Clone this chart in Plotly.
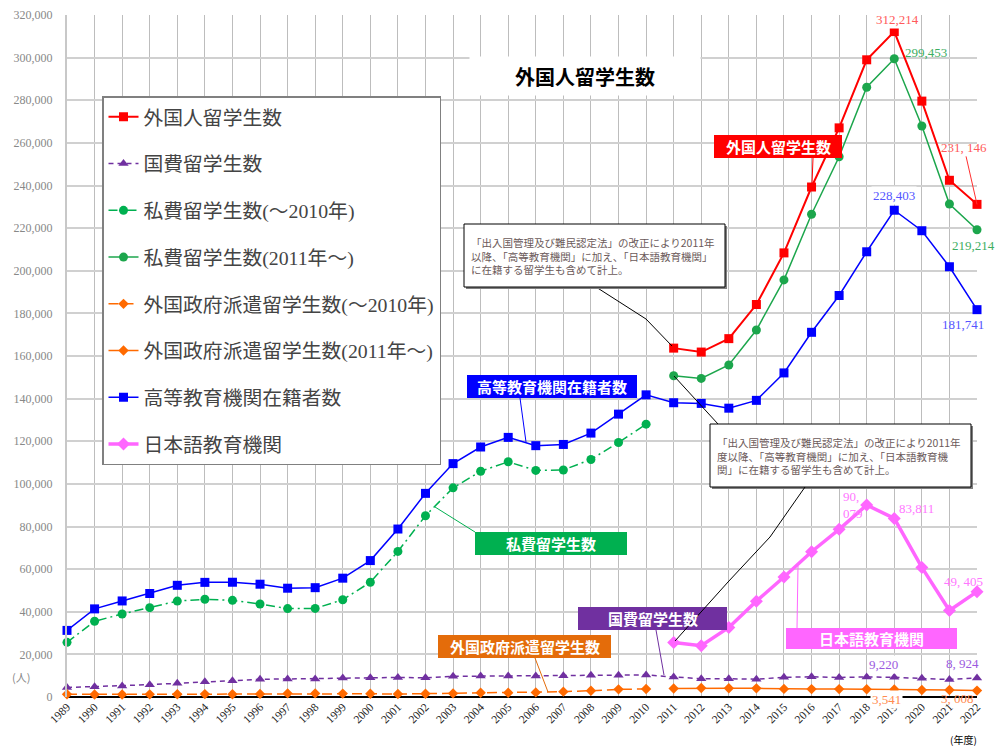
import plotly.graph_objects as go

# ---------------- data ----------------
years_all = list(range(1989, 2023))
years_pre = list(range(1989, 2011))
years_post = list(range(2011, 2023))

total_post = [163697, 161848, 168145, 184155, 208379, 239287, 267042, 298980,
              312214, 279597, 242444, 231146]

kokuhi_all = [4465, 4850, 5160, 5790, 6420, 7200, 7670, 8300, 8450, 8450, 8900,
              9070, 9173, 9009, 9746, 9804, 9891, 9869, 10020, 10168, 10200,
              10349, 9396, 8588, 8529, 8351, 9223, 9481, 9166, 9423, 9220,
              8785, 8185, 8924]

shihi_pre = [25643, 35523, 38950, 41917, 45010, 45845, 45344, 43643, 41494,
             41576, 45627, 53847, 68319, 85024, 98135, 105903, 110358, 106307,
             106511, 111455, 119396, 128013]
shihi_post = [150750, 149500, 155800, 172200, 195700, 226500, 253500, 286100,
              299453, 267900, 231300, 219214]

gaikoku_pre = [1270, 1150, 1200, 1250, 1300, 1350, 1300, 1450, 1700, 1700,
               1600, 1500, 1400, 1550, 1700, 2000, 2000, 2150, 2500, 2950,
               3600, 3750]
gaikoku_post = [4000, 4200, 4100, 4050, 3800, 3700, 3700, 3650, 3541, 3300,
                3250, 3008]

koto_all = [31251, 41347, 45066, 48561, 52405, 53787, 53847, 52921, 51047,
            51298, 55755, 64011, 78812, 95550, 109508, 117302, 121812, 117927,
            118498, 123829, 132720, 141774, 138075, 137756, 135519, 139185,
            152062, 171122, 188384, 208901, 228403, 218783, 201877, 181741]

nihongo_post = [25622, 24092, 32626, 44970, 56317, 68165, 78658, 90079, 83811,
                60814, 40570, 49405]

y_ticks = list(range(0, 320001, 20000))

names = ["外国人留学生数", "国費留学生数", "私費留学生数(～2010年)",
         "私費留学生数(2011年～)", "外国政府派遣留学生数(～2010年)",
         "外国政府派遣留学生数(2011年～)", "高等教育機関在籍者数", "日本語教育機関"]

# ---------------- styling ----------------
W, H = 996, 752
L, T = 67, 15                 # plot area: x 67..977, y 15..697
PW, PH = 910, 682
R, B = W - L - PW, H - T - PH
SERIF = "Liberation Serif, Noto Sans CJK JP"
JP = "Noto Sans CJK JP"

def px(x):
    return (x - L) / PW

def py(y):
    return (T + PH - y) / PH

RED, PURPLE, GREEN, ORANGE, BLUE, PINK = "#FF0000", "#7030A0", "#00B050", "#FF6A00", "#0000FF", "#FF66FF"

fig = go.Figure()

def add(x, y, name, color, dash, symbol, msize, lw, gi):
    fig.add_trace(go.Scatter(
        x=x, y=y, name=name, mode="lines+markers",
        line=dict(color=color, width=lw, dash=dash),
        marker=dict(symbol=symbol, size=msize, color=color),
        cliponaxis=False, legendgroup=f"g{gi}", hoverinfo="x+y"))

add(years_post, total_post, names[0], RED, "solid", "square", 9, 2, 0)
add(years_all, kokuhi_all, names[1], PURPLE, "5px,4px", "triangle-up", 9, 1.5, 1)
add(years_pre, shihi_pre, names[2], GREEN, "9px,4px,2px,4px", "circle", 9, 1.5, 2)
add(years_post, shihi_post, names[3], "#1CA64C", "solid", "circle", 9, 1.5, 3)
add(years_pre, gaikoku_pre, names[4], ORANGE, "10px,5px", "diamond", 8, 1.5, 4)
add(years_post, gaikoku_post, names[5], ORANGE, "solid", "diamond", 8, 1.5, 5)
add(years_all, koto_all, names[6], BLUE, "solid", "square", 9, 1.5, 6)
add(years_post, nihongo_post, names[7], PINK, "solid", "diamond", 10, 3.5, 7)

ann = []
shapes = []

def pann(x, y, text, font, **kw):
    d = dict(xref="paper", yref="paper", x=px(x), y=py(y), text=text, showarrow=False,
             xanchor="center", yanchor="middle", font=font)
    d.update(kw)
    ann.append(d)

# title with white backing
pann(585, 76, "<b>外国人留学生数</b>", dict(family=JP, size=20, color="#000"),
     bgcolor="white", width=228, height=36)

# data labels (text, x, y, xshift, yshift, color, bg)
labels = [
    ("312,214", 2019, total_post[8], 3, 12, "#FF5A5A", True),
    ("299,453", 2019, shihi_post[8], 32, 6, "#3DAE62", False),
    ("219,214", 2022, shihi_post[11], -4, -16, "#3DAE62", False),
    ("228,403", 2019, koto_all[30], 0, 15, "#5555FF", True),
    ("181,741", 2022, koto_all[33], -14, -15, "#5555FF", False),
    ("90,<br>079", 2018, nihongo_post[7], -14, 0, "#FF77FF", False),
    ("83,811", 2019, nihongo_post[8], 22, 10, "#FF77FF", False),
    ("49, 405", 2022, nihongo_post[11], -14, 10, "#FF77FF", False),
    ("9,220", 2019, kokuhi_all[30], -11, 13, "#9B59E0", True),
    ("8, 924", 2022, kokuhi_all[33], -15, 14, "#9B59E0", False),
    ("3,541", 2019, gaikoku_post[8], -8, -10, "#FF8C50", True),
    ("3, 008", 2022, gaikoku_post[11], -20, -8, "#FF8C50", False),
]
for t, x, y, xs, ys, c, bg in labels:
    ann.append(dict(x=x, y=y, xref="x", yref="y", text=t, showarrow=False,
                    xshift=xs, yshift=ys, align="left",
                    xanchor="center", yanchor="middle",
                    font=dict(family=SERIF, size=13, color=c),
                    bgcolor="white" if bg else "rgba(0,0,0,0)"))

# 231,146 with leader line
ann.append(dict(x=2022, y=total_post[11], xref="x", yref="y", text="231, 146",
                showarrow=True, arrowhead=0, arrowwidth=1, arrowcolor="#FF3030",
                ax=-13, ay=-57, font=dict(family=SERIF, size=13, color="#FF5A5A")))

# coloured callout boxes (text, x0, x1, y0, y1, color, leader points)
boxes = [
    ("外国人留学生数", 714, 842, 135, 158, RED, [(813, 158), (812, 184)]),
    ("高等教育機関在籍者数", 467, 637, 375, 398, BLUE, [(520, 398), (526, 442)]),
    ("私費留学生数", 475, 627, 532, 555, GREEN, [(475, 532), (435, 507)]),
    ("国費留学生数", 578, 727, 607, 630, PURPLE, [(656, 630), (664, 675)]),
    ("外国政府派遣留学生数", 438, 611, 635, 658, "#E46C0A", [(535, 658), (548, 692)]),
    ("日本語教育機関", 786, 957, 628, 649, PINK, [(797, 628), (798, 566)]),
]
for t, x0, x1, y0, y1, c, pts in boxes:
    (ax0, ay0), (ax1, ay1) = pts
    shapes.append(dict(type="line", xref="paper", yref="paper",
                       x0=px(ax0), y0=py(ay0), x1=px(ax1), y1=py(ay1),
                       line=dict(color=c, width=1)))
    shapes.append(dict(type="rect", xref="paper", yref="paper",
                       x0=px(x0), x1=px(x1), y0=py(y1), y1=py(y0),
                       fillcolor=c, line=dict(width=0), layer="above"))
    pann((x0 + x1) / 2, (y0 + y1) / 2, f"<b>{t}</b>", dict(family=JP, size=15, color="white"))

# note boxes
note1 = ("「出入国管理及び難民認定法」の改正により2011年<br>"
         "以降、「高等教育機関」に加え、「日本語教育機関」<br>"
         "に在籍する留学生も含めて計上。")
note2 = ("「出入国管理及び難民認定法」の改正により2011年<br>"
         "度以降、「高等教育機関」に加え、「日本語教育機<br>"
         "関」に在籍する留学生も含めて計上。")
notes = [(note1, 464, 725, 224, 287, [(596, 287), (646, 319), (672, 346)]),
         (note2, 710, 971, 424, 487, [(718, 424), (674, 376)])]
for t, x0, x1, y0, y1, pts in notes:
    path = "M " + " L ".join(f"{px(a)},{py(b)}" for a, b in pts)
    shapes.append(dict(type="path", xref="paper", yref="paper", path=path,
                       line=dict(color="#000", width=1)))
    shapes.append(dict(type="rect", xref="paper", yref="paper",
                       x0=px(x0 + 2), x1=px(x1 + 2), y0=py(y1 + 2), y1=py(y0 + 2),
                       fillcolor="#7F7F7F", line=dict(width=0), layer="above"))
    shapes.append(dict(type="rect", xref="paper", yref="paper",
                       x0=px(x0), x1=px(x1), y0=py(y1), y1=py(y0),
                       fillcolor="white", line=dict(color="#000", width=1), layer="above"))
    pann(x0 + 5, (y0 + y1) / 2, t, dict(family=JP, size=10.5, color="#6B5A5A"),
         xanchor="left", align="left")
# second leader of note 2
path = "M " + " L ".join(f"{px(a)},{py(b)}" for a, b in [(805, 487), (770, 537), (728, 582), (675, 641)])
shapes.append(dict(type="path", xref="paper", yref="paper", path=path,
                   line=dict(color="#000", width=1)))

# axis unit labels
pann(21, 677, "(人)", dict(family=JP, size=11, color="#888"))
pann(963, 739, "(年度)", dict(family=JP, size=10, color="#000"))

fig.update_layout(
    width=W, height=H, margin=dict(l=L, r=R, t=T, b=B, autoexpand=False),
    paper_bgcolor="white", plot_bgcolor="white",
    showlegend=True,
    legend=dict(x=px(102), y=py(96), xanchor="left", yanchor="top",
                bgcolor="white", bordercolor="#808080", borderwidth=1.5,
                font=dict(family=SERIF, size=19.8, color="#444"),
                tracegroupgap=18, itemwidth=30),
    xaxis=dict(range=[1989, 2022], tickmode="array", tickvals=years_all,
               ticktext=[str(y) for y in years_all], tickangle=-45,
               tickfont=dict(family=SERIF, size=11.5, color="#222"),
               showgrid=True, gridcolor="#BDBDBD", gridwidth=1.3,
               zeroline=False, showline=False, ticks="", automargin=False),
    yaxis=dict(range=[0, 320000], tickvals=y_ticks, tickformat=",d",
               tickfont=dict(family=SERIF, size=12, color="#888"),
               showgrid=True, gridcolor="#D0D0D0", gridwidth=2,
               zeroline=True, zerolinecolor="#000", zerolinewidth=2,
               showline=True, linecolor="#C8C8C8", linewidth=2,
               ticks="", ticklabelstandoff=10, automargin=False),
    annotations=ann, shapes=shapes,
)

fig.write_html("out.html", config={"displayModeBar": False},
               post_script="document.body.style.margin='0px';")
